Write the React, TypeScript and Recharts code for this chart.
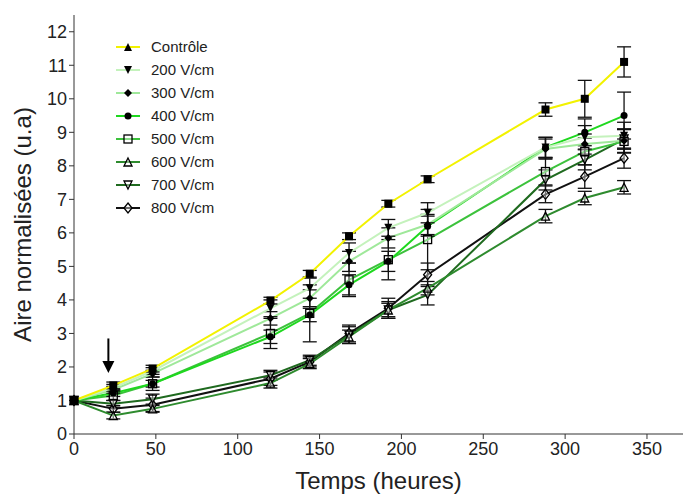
import React from "react";
import {
  LineChart,
  Line,
  XAxis,
  YAxis,
  ErrorBar,
  ReferenceLine,
} from "recharts";

// temps en heures
const times = [0, 24, 48, 120, 144, 168, 192, 216, 288, 312, 336];

const controle = [1, 1.45, 1.95, 3.98, 4.78, 5.9, 6.87, 7.6, 9.68, 10.0, 11.1];
const v200 = [1, 1.38, 1.88, 3.75, 4.35, 5.4, 6.15, 6.6, 8.55, 8.85, 8.9];
const v300 = [1, 1.32, 1.8, 3.45, 4.05, 5.15, 5.85, 6.25, 8.5, 8.65, 8.75];
const v400 = [1, 1.22, 1.5, 2.9, 3.55, 4.45, 5.15, 6.2, 8.55, 9.0, 9.5];
const v500 = [1, 1.15, 1.5, 3.0, 3.6, 4.6, 5.2, 5.8, 7.83, 8.43, 8.73];
const v600 = [1, 0.55, 0.75, 1.52, 2.1, 2.9, 3.7, 4.35, 6.5, 7.04, 7.36];
const v700 = [1, 0.9, 1.04, 1.75, 2.2, 2.95, 3.7, 4.15, 7.58, 8.18, 8.8];
const v800 = [1, 0.75, 0.87, 1.65, 2.15, 3.0, 3.75, 4.75, 7.15, 7.68, 8.23];

// écarts (barres d'erreur)
const eControle = [0, 0.1, 0.1, 0.1, 0.1, 0.1, 0.1, 0.1, 0.2, 0.55, 0.45];
const e200 = [0, 0.1, 0.1, 0.25, 0.3, 0.3, 0.25, 0.3, 0.3, 0.35, 0.4];
const e300 = [0, 0.1, 0.1, 0.2, 0.25, 0.3, 0.3, 0.3, 0.3, 0.3, 0.35];
const e400 = [0, 0.1, 0.1, 0.2, 0.2, 0.3, 0.3, 0.3, 0.3, 0.4, 0.7];
const e500 = [0, 0.15, 0.2, 0.45, 0.85, 0.5, 0.6, 0.9, 0.4, 0.4, 0.35];
const e600 = [0, 0.1, 0.1, 0.15, 0.15, 0.2, 0.2, 0.2, 0.2, 0.2, 0.2];
const e700 = [0, 0.1, 0.15, 0.15, 0.15, 0.25, 0.25, 0.3, 0.3, 0.3, 0.3];
const e800 = [0, 0.1, 0.2, 0.2, 0.15, 0.25, 0.3, 0.35, 0.25, 0.35, 0.3];

const xTicks = [0, 50, 100, 150, 200, 250, 300, 350];
const yTicks = [0, 1, 2, 3, 4, 5, 6, 7, 8, 9, 10, 11, 12];

type Shape = "square" | "tri" | "triDown" | "diamond" | "circle" | "sqOpen" | "triOpen" | "triDownOpen" | "diamondOpen";

type Serie = {
  key: string;
  name: string;
  values: number[];
  errors: number[];
  color: string;
  shape: Shape;
  legendShape: Shape;
};

const series: Serie[] = [
  { key: "c", name: "Contrôle", values: controle, errors: eControle, color: "#f2f200", shape: "square", legendShape: "tri" },
  { key: "v200", name: "200 V/cm", values: v200, errors: e200, color: "#c4f2bc", shape: "triDown", legendShape: "triDown" },
  { key: "v300", name: "300 V/cm", values: v300, errors: e300, color: "#9fe89a", shape: "diamond", legendShape: "diamond" },
  { key: "v400", name: "400 V/cm", values: v400, errors: e400, color: "#1ed81e", shape: "circle", legendShape: "circle" },
  { key: "v500", name: "500 V/cm", values: v500, errors: e500, color: "#3cc23c", shape: "sqOpen", legendShape: "sqOpen" },
  { key: "v600", name: "600 V/cm", values: v600, errors: e600, color: "#2e8b2e", shape: "triOpen", legendShape: "triOpen" },
  { key: "v700", name: "700 V/cm", values: v700, errors: e700, color: "#1f6a1f", shape: "triDownOpen", legendShape: "triDownOpen" },
  { key: "v800", name: "800 V/cm", values: v800, errors: e800, color: "#111111", shape: "diamondOpen", legendShape: "diamondOpen" },
];

const data = times.map((t, i) => {
  const row: Record<string, number> = { t };
  series.forEach((s) => {
    row[s.key] = s.values[i];
    row[s.key + "_e"] = s.errors[i];
  });
  return row;
});

function marker(shape: Shape, cx: number, cy: number, key?: string | number) {
  const r = 4;
  const k = key;
  switch (shape) {
    case "square":
      return <rect key={k} x={cx - r} y={cy - r} width={2 * r} height={2 * r} fill="#000" />;
    case "sqOpen":
      return <rect key={k} x={cx - r} y={cy - r} width={2 * r} height={2 * r} fill="#fff" fillOpacity={0.4} stroke="#000" strokeWidth={1.3} />;
    case "tri":
      return <polygon key={k} points={`${cx},${cy - r} ${cx + r},${cy + r} ${cx - r},${cy + r}`} fill="#000" />;
    case "triOpen":
      return <polygon key={k} points={`${cx},${cy - r} ${cx + r},${cy + r} ${cx - r},${cy + r}`} fill="#fff" fillOpacity={0.4} stroke="#000" strokeWidth={1.3} />;
    case "triDown":
      return <polygon key={k} points={`${cx - r},${cy - r} ${cx + r},${cy - r} ${cx},${cy + r}`} fill="#000" />;
    case "triDownOpen":
      return <polygon key={k} points={`${cx - r},${cy - r} ${cx + r},${cy - r} ${cx},${cy + r}`} fill="#fff" fillOpacity={0.4} stroke="#000" strokeWidth={1.3} />;
    case "diamond":
      return <polygon key={k} points={`${cx},${cy - r} ${cx + r},${cy} ${cx},${cy + r} ${cx - r},${cy}`} fill="#000" />;
    case "diamondOpen":
      return <polygon key={k} points={`${cx},${cy - r - 1} ${cx + r},${cy} ${cx},${cy + r + 1} ${cx - r},${cy}`} fill="#fff" fillOpacity={0.4} stroke="#000" strokeWidth={1.3} />;
    case "circle":
    default:
      return <circle key={k} cx={cx} cy={cy} r={3.5} fill="#000" />;
  }
}

const font = "'Liberation Sans', Arial, sans-serif";

function LegendBox() {
  return (
    <div style={{ position: "absolute", left: 115, top: 35, fontFamily: font, fontSize: 15, color: "#222" }}>
      {series.map((s) => (
        <div key={s.key} style={{ display: "flex", alignItems: "center", height: 23 }}>
          <svg width={26} height={14} style={{ marginRight: 10 }}>
            <line x1={1} y1={7} x2={25} y2={7} stroke={s.color} strokeWidth={2} />
            {marker(s.legendShape, 13, 7)}
          </svg>
          <span>{s.name}</span>
        </div>
      ))}
    </div>
  );
}

function Arrow(props: any) {
  const { x1, y1, x2, y2 } = props;
  return (
    <g>
      <line x1={x1} y1={y1} x2={x2} y2={y2 - 10} stroke="#000" strokeWidth={2} />
      <polygon points={`${x2 - 6},${y2 - 12} ${x2 + 6},${y2 - 12} ${x2},${y2}`} fill="#000" />
    </g>
  );
}

export default function App() {
  return (
    <div style={{ position: "fixed", left: 0, top: 0, width: 683, height: 495, background: "#fff" }}>
      <LineChart width={683} height={495} data={data} margin={{ top: 15, right: 0, left: 0, bottom: 0 }}>
        <XAxis
          dataKey="t"
          type="number"
          domain={[0, 372]}
          ticks={xTicks}
          tickSize={5}
          tickMargin={3}
          height={61}
          stroke="#333"
          tick={{ fill: "#222", fontSize: 18, fontFamily: font }}
          label={{ value: "Temps (heures)", position: "insideBottom", offset: 6, fill: "#222", fontSize: 24, fontFamily: font }}
        />
        <YAxis
          type="number"
          domain={[0, 12.5]}
          ticks={yTicks}
          width={74}
          tickSize={5}
          tickMargin={2}
          stroke="#333"
          tick={{ fill: "#222", fontSize: 18, fontFamily: font }}
          label={{ value: "Aire normalisées (u.a)", angle: -90, position: "insideLeft", offset: 22, fill: "#222", fontSize: 24, fontFamily: font, style: { textAnchor: "middle" } }}
        />
        <ReferenceLine
          segment={[{ x: 21, y: 2.85 }, { x: 21, y: 1.82 }]}
          shape={Arrow}
        />
        {series
          .slice()
          .reverse()
          .map((s) => (
            <Line
              key={s.key}
              dataKey={s.key}
              name={s.name}
              type="linear"
              stroke={s.color}
              strokeWidth={2}
              isAnimationActive={false}
              dot={(p: any) => marker(s.shape, p.cx, p.cy, p.index)}
              activeDot={false}
            >
              <ErrorBar dataKey={s.key + "_e"} width={7} stroke="#111" strokeWidth={1.3} direction="y" />
            </Line>
          ))}
      </LineChart>
      <LegendBox />
    </div>
  );
}
